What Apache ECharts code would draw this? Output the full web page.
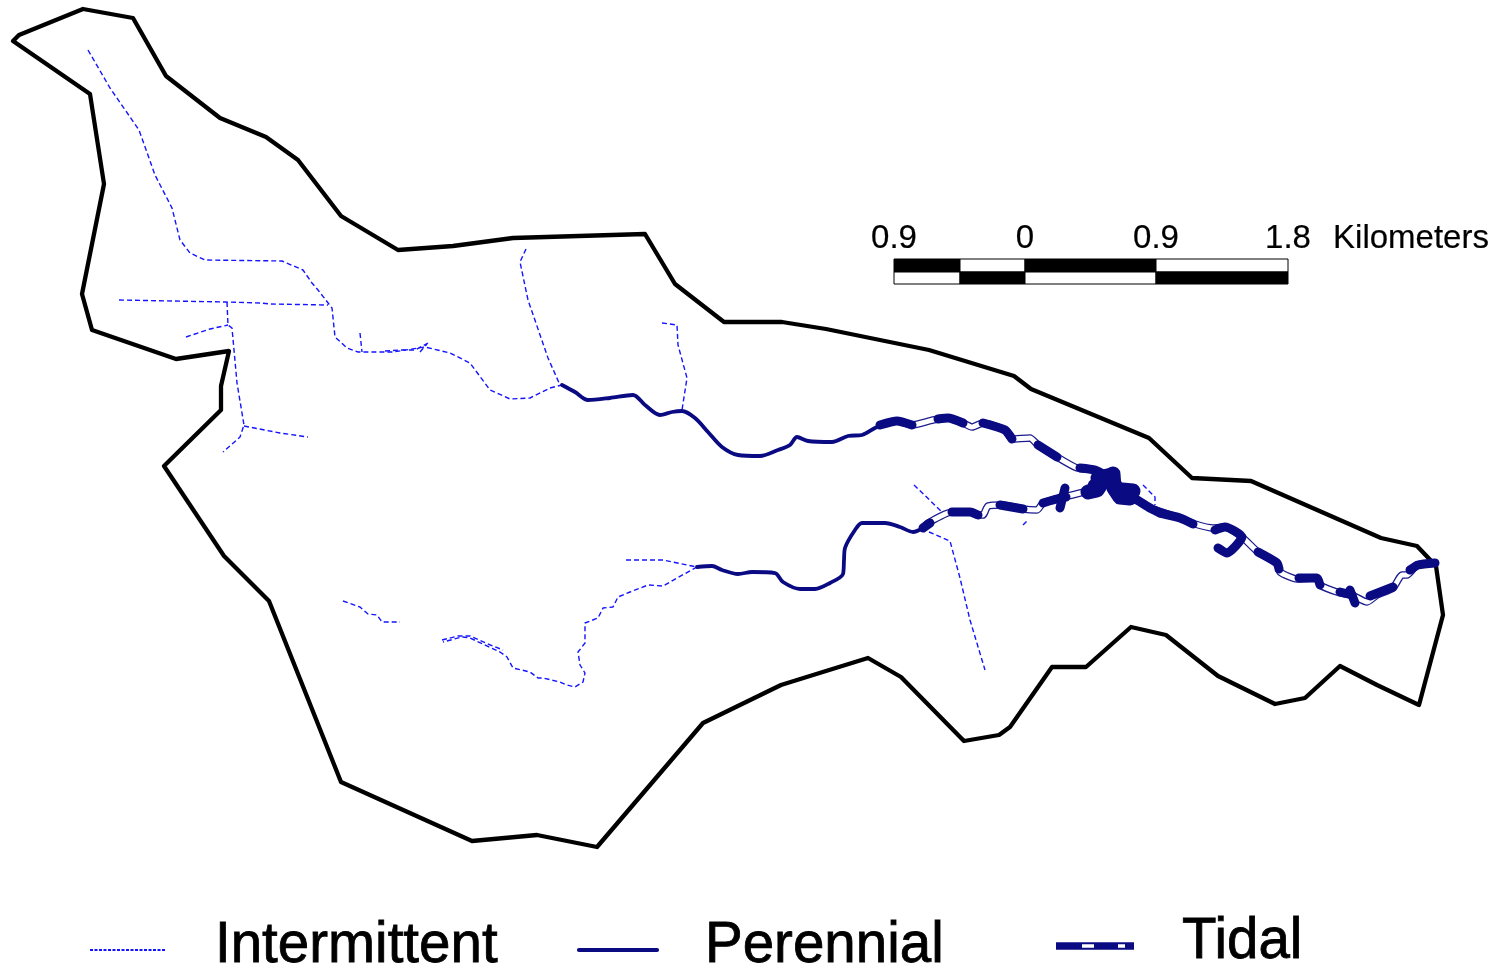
<!DOCTYPE html>
<html><head><meta charset="utf-8">
<style>html,body{margin:0;padding:0;background:#fff}#c{width:1503px;height:968px}</style>
<script src="https://cdn.jsdelivr.net/npm/echarts@6/dist/echarts.min.js"></script>
</head><body><div id="c"></div>
<script>
// Map geometry (image-space map units)
const boundary=[[13,41],[19,35],[83,9],[133,18],[166,76],[220,118],[266,137],[298,160],[341,216],[398,250],[453,246],[513,238],[645,234],[675,284],[724,322],[782,322],[826,329],[929,350],[1014,376],[1031,389],[1149,438],[1192,478],[1251,481],[1381,538],[1417,546],[1436,566],[1443,615],[1419,705],[1377,685],[1340,666],[1305,698],[1275,704],[1218,676],[1166,635],[1131,627],[1086,667],[1052,667],[1010,727],[999,735],[964,741],[901,677],[868,658],[826,671],[781,685],[703,723],[597,847],[537,835],[472,841],[341,782],[269,601],[224,556],[164,466],[221,410],[221,386],[229,351],[176,359],[92,330],[82,294],[104,184],[90,94],[13,41]];

const intermittent=[
 [[88,50],[110,88],[139,130],[155,175],[172,208],[180,240],[190,253],[205,260],[282,261],[303,270],[312,283],[318,290],[332,308],[335,337],[347,348],[358,352],[393,352],[425,347],[450,353],[470,363],[490,390],[510,399],[530,398],[550,388],[562,385]],
 [[119,300],[173,301],[225,302],[260,303],[270,304],[328,305]],
 [[227,302],[228,325],[232,328],[237,383],[244,425],[240,437],[223,452]],
 [[186,337],[210,329],[228,325]],
 [[244,426],[280,433],[308,437]],
 [[360,333],[362,352]],
 [[385,351],[400,350],[415,350],[428,343]],
 [[420,352],[427,344]],
 [[526,249],[520,262],[528,300],[548,358],[560,385]],
 [[662,323],[677,325],[678,345],[687,378],[682,410]],
 [[914,485],[942,512]],
 [[929,532],[950,541],[960,578],[970,620],[985,670]],
 [[1023,525],[1027,521]],
 [[1143,485],[1155,497],[1155,505]],
 [[626,560],[663,560],[697,567]],
 [[697,567],[677,578],[663,586],[648,585],[630,592],[618,597],[613,607],[603,608],[598,618],[585,623],[585,643],[578,652],[580,665],[585,673],[583,682],[575,687],[567,685],[560,682],[543,678],[538,678],[530,672],[513,668],[507,657],[500,652],[470,638],[462,637],[443,642]],
 [[442,640],[458,636],[470,636],[488,644],[503,650]],
 [[343,601],[360,607],[368,614],[377,615],[382,622],[400,622]]
];

const perennial=[
 [[562,385],[575,392],[588,400],[610,398],[633,395],[645,405],[660,415],[672,412],[682,411],[695,418],[708,432],[722,447],[738,455],[760,456],[778,450],[790,445],[797,437],[808,441],[832,442],[848,436],[862,435],[875,428],[890,421]],
 [[697,567],[712,566],[722,570],[738,574],[752,572],[775,573],[783,582],[800,589],[815,589],[830,583],[843,574],[844,560],[845,548],[855,530],[862,523],[885,523],[900,527],[913,532],[923,528]]
];

const tidalChannel=[
 [[880,425],[897,421],[912,425],[933,420],[948,418],[963,423],[972,427],[983,423],[1005,430],[1012,439],[1030,438],[1038,445],[1057,457],[1077,468],[1095,470],[1107,476],[1113,475],[1123,493],[1137,500],[1150,508],[1180,518],[1195,524],[1213,528],[1225,527],[1242,537],[1258,552],[1277,563],[1280,572],[1297,579],[1317,578],[1320,585],[1340,593],[1352,595],[1367,602],[1377,595],[1393,588],[1402,575],[1407,575],[1417,565],[1435,563]],
 [[923,528],[928,523],[952,512],[970,512],[978,515],[983,515],[988,506],[1003,505],[1023,509],[1037,510],[1043,503],[1060,498],[1080,493],[1093,490]]
];

const tidalSolid=[
 [[880,425],[897,421],[912,425]],
 [[938,419],[948,418],[963,423]],
 [[983,423],[1005,430],[1012,439]],
 [[1038,445],[1057,457]],
 [[1080,468],[1095,470],[1107,476]],
 [[923,528],[930,523]],
 [[952,512],[970,512],[978,515]],
 [[1000,505],[1023,509]],
 [[1043,503],[1060,498],[1066,497]],
 [[1065,488],[1060,508]],
 [[1123,493],[1137,500],[1150,508],[1160,513]],
 [[1160,513],[1180,518],[1193,524]],
 [[1215,530],[1225,527],[1242,537],[1227,553],[1218,548]],
 [[1258,552],[1277,563],[1279,569]],
 [[1299,578],[1317,578],[1320,585]],
 [[1340,592],[1352,595]],
 [[1350,590],[1355,603]],
 [[1370,596],[1393,587]],
 [[1410,570],[1418,565],[1435,563]]
];

const tidalBlob=[
 [[1088,492],[1097,490],[1103,481],[1110,476]],
 [[1095,486],[1105,480]],
 [[1113,474],[1114,488],[1120,497],[1130,498]],
 [[1122,490],[1133,491]],
 [[1098,478],[1112,475]]
];

const legendTidalGaps=[[[1082,946],[1094,946]],[[1118,946],[1125,946]]];
const legendIntermittent=[[90,950],[166,950]];
const legendPerennial=[[579,950],[657,950]];
const legendTidal=[[1056,946],[1134,946]];

const scaleTicks=[[894,'0.9'],[1025,'0'],[1156,'0.9'],[1288,'1.8']];
const scaleSegments=[[894,960,259,272,1],[960,1025,259,272,0],[1025,1156,259,272,1],[1156,1288,259,272,0],
                     [894,960,272,284,0],[960,1025,272,284,1],[1025,1156,272,284,0],[1156,1288,272,284,1]];
const scaleUnit=[[1411,239,'Kilometers']];
const legendLabels=[[215,946,'Intermittent'],[705,946,'Perennial'],[1182,942,'Tidal']];

const BLUE='#1414ff',NAVY='#0a0a82';
const poly=(name,data,color,width,extra,smooth)=>({type:'line',name,data,symbol:'none',silent:true,smooth:smooth||false,
  lineStyle:{color,width,cap:'round',join:'round',...(extra||{})},z:2});
const series=[];
series.push(poly('Boundary',boundary,'#000',4.3));
intermittent.forEach(d=>series.push(poly('Intermittent',d,BLUE,1.4,{type:[5,3],cap:'butt'})));
perennial.forEach(d=>series.push(poly('Perennial',d,NAVY,3.8,null,0.3)));
tidalChannel.forEach(d=>series.push(poly('Tidal',d,'#1c1c8e',7.5,null,0.2)));
tidalChannel.forEach(d=>series.push(poly('Tidal',d,'#ffffff',5,null,0.2)));
tidalSolid.forEach(d=>series.push(poly('Tidal',d,NAVY,9,null,0.2)));
tidalBlob.forEach(d=>series.push(poly('Tidal',d,NAVY,15)));
series.push(poly('Intermittent key',legendIntermittent,BLUE,1.8,{type:[3,1.5],cap:'butt'}));
series.push(poly('Perennial key',legendPerennial,NAVY,4.2));
series.push(poly('Tidal key',legendTidal,NAVY,7.5,{cap:'butt'}));
legendTidalGaps.forEach(d=>series.push(poly('Tidal key gap',d,'#fff',3.5,{cap:'butt'})));

series.push({type:'custom',name:'Scale bar',silent:true,z:3,data:scaleSegments,
  renderItem:(p,api)=>{
    const a=api.coord([api.value(0),api.value(2)]),b=api.coord([api.value(1),api.value(3)]);
    return {type:'rect',shape:{x:a[0],y:a[1],width:b[0]-a[0],height:b[1]-a[1]},
      style:{fill:api.value(4)?'#000':'#fff',stroke:'#000',lineWidth:1}};
  }});
const txt=(name,data,size,align,border)=>({type:'scatter',name,silent:true,symbolSize:0,z:4,itemStyle:{opacity:1},
  data:data.map(d=>({value:[d[0],d[1]],name:d[2]})),
  label:{show:true,position:'inside',formatter:'{b}',color:'#000',opacity:1,fontFamily:'Liberation Sans',fontSize:size,align,verticalAlign:'middle',padding:0,
    textBorderColor:'#000',textBorderWidth:border}});
series.push(txt('Scale labels',scaleTicks.map(t=>[t[0],239,t[1]]),33,'center',0.2));
series.push(txt('Scale unit',scaleUnit,33,'center',0.2));
series.push(txt('Key labels',legendLabels,56.5,'left',0.8));

const chart=echarts.init(document.getElementById('c'),null,{renderer:'canvas'});
chart.setOption({animation:false,backgroundColor:'#fff',
  grid:{left:0,top:0,width:1503,height:968},
  xAxis:{type:'value',min:0,max:1503,show:false},
  yAxis:{type:'value',min:0,max:968,inverse:true,show:false},
  series});
</script></body></html>
